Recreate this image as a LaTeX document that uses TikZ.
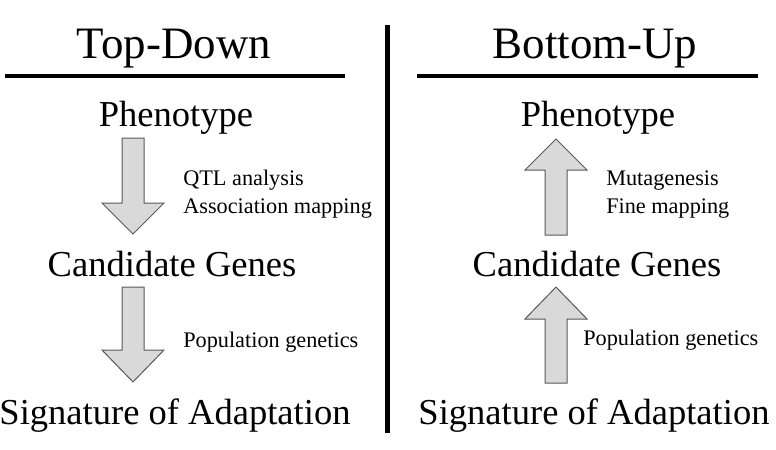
\documentclass[tikz,border=0pt]{standalone}
\usepackage{fontspec}
\setmainfont{Liberation Serif}
\begin{document}
\begin{tikzpicture}[x=0.75pt, y=-0.75pt,
  title/.style={font=\fontsize{33.7}{40}\selectfont, anchor=base, inner sep=0},
  stage/.style={font=\fontsize{27.4}{33}\selectfont, anchor=base, inner sep=0},
  method/.style={font=\fontsize{16.7}{21}\selectfont, anchor=base west, align=left, inner sep=0},
  blockarrow/.style={draw=black!65, fill=black!15, line width=0.75pt}]
\useasboundingbox (0,0) rectangle (776,450);
% headings
\node [title] (topdown) at (174,58) {Top-Down};
\node [title] (bottomup) at (595,58) {Bottom-Up};
\draw [line width=3pt] (5,76) -- (345,76);
\draw [line width=3pt] (417,76) -- (758,76);
\draw [line width=3.4pt] (387.5,25) -- (387.5,433);
% top-down column
\node [stage] (phenoL) at (176,126) {Phenotype};
\node [stage] (candL) at (172,276) {Candidate Genes};
\node [stage] (signL) at (175,424) {Signature of Adaptation};
\draw [blockarrow] (122,138) -- (144,138) -- (144,203) -- (164,203) -- (133,234) -- (102,203) -- (122,203) -- cycle;
\draw [blockarrow] (122,287) -- (144,287) -- (144,350) -- (164,350) -- (133,382) -- (102,350) -- (122,350) -- cycle;
\node [method] (qtl) at (183,213) {QTL analysis\\Association mapping};
\node [method] (popL) at (183,347) {Population genetics};
% bottom-up column
\node [stage] (phenoR) at (598,126) {Phenotype};
\node [stage] (candR) at (597,276) {Candidate Genes};
\node [stage] (signR) at (594,424) {Signature of Adaptation};
\draw [blockarrow] (545,235) -- (567,235) -- (567,170) -- (587,170) -- (556,139) -- (525,170) -- (545,170) -- cycle;
\draw [blockarrow] (545,383) -- (567,383) -- (567,319) -- (587,319) -- (556,287) -- (525,319) -- (545,319) -- cycle;
\node [method] (mutag) at (606,213) {Mutagenesis\\Fine mapping};
\node [method] (popR) at (583,345) {Population genetics};
\end{tikzpicture}
\end{document}
